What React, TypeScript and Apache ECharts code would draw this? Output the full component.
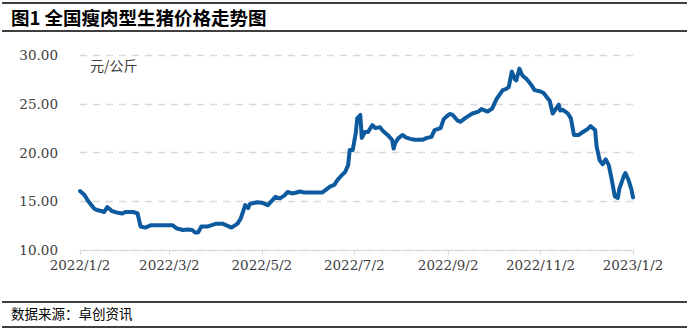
import React, { useEffect, useRef } from "react";
import * as echarts from "echarts";

const titleText = "图1 全国瘦肉型生猪价格走势图";
const sourceText = "数据来源：卓创资讯";
const unitText = "元/公斤";

const xTickLabels = ["2022/1/2", "2022/3/2", "2022/5/2", "2022/7/2", "2022/9/2", "2022/11/2", "2023/1/2"];

const dates = [
  "2022/1/2", "2022/1/5", "2022/1/7", "2022/1/11", "2022/1/13", "2022/1/16", "2022/1/18", "2022/1/20",
  "2022/1/23", "2022/1/26", "2022/1/30", "2022/2/1", "2022/2/6", "2022/2/9", "2022/2/11", "2022/2/14",
  "2022/2/18", "2022/3/4", "2022/3/7", "2022/3/11", "2022/3/14", "2022/3/17", "2022/3/19", "2022/3/21",
  "2022/3/23", "2022/3/27", "2022/3/30", "2022/4/2", "2022/4/6", "2022/4/9", "2022/4/12", "2022/4/16",
  "2022/4/18", "2022/4/20", "2022/4/21", "2022/4/23", "2022/4/24", "2022/4/26", "2022/4/29", "2022/5/2",
  "2022/5/6", "2022/5/11", "2022/5/14", "2022/5/17", "2022/5/19", "2022/5/22", "2022/5/25", "2022/5/27",
  "2022/5/30", "2022/6/3", "2022/6/7", "2022/6/11", "2022/6/13", "2022/6/16", "2022/6/19", "2022/6/21",
  "2022/6/24", "2022/6/26", "2022/6/28", "2022/6/29", "2022/7/1", "2022/7/3", "2022/7/4", "2022/7/6",
  "2022/7/7", "2022/7/9", "2022/7/11", "2022/7/14", "2022/7/16", "2022/7/19", "2022/7/21", "2022/7/24",
  "2022/7/27", "2022/7/28", "2022/7/29", "2022/7/31", "2022/8/3", "2022/8/5", "2022/8/8", "2022/8/11",
  "2022/8/16", "2022/8/19", "2022/8/22", "2022/8/24", "2022/8/28", "2022/8/30", "2022/9/1", "2022/9/3",
  "2022/9/5", "2022/9/8", "2022/9/10", "2022/9/13", "2022/9/15", "2022/9/18", "2022/9/22", "2022/9/24",
  "2022/9/28", "2022/10/1", "2022/10/4", "2022/10/8", "2022/10/10", "2022/10/12", "2022/10/14", "2022/10/16",
  "2022/10/17", "2022/10/19", "2022/10/21", "2022/10/24", "2022/10/27", "2022/10/29", "2022/11/2", "2022/11/4",
  "2022/11/6", "2022/11/8", "2022/11/10", "2022/11/14", "2022/11/15", "2022/11/17", "2022/11/20", "2022/11/22",
  "2022/11/24", "2022/11/27", "2022/11/30", "2022/12/3", "2022/12/5", "2022/12/8", "2022/12/9", "2022/12/11",
  "2022/12/13", "2022/12/15", "2022/12/17", "2022/12/19", "2022/12/21", "2022/12/23", "2022/12/24", "2022/12/27",
  "2022/12/28", "2022/12/30", "2023/1/1", "2023/1/2",
];

const prices = [
  16.05, 15.65, 15.1, 14.3, 14.1, 14.0, 13.9, 14.4,
  14.0, 13.85, 13.75, 13.9, 13.9, 13.75, 12.4, 12.3,
  12.55, 12.55, 12.2, 12.05, 12.1, 12.05, 11.8, 11.8,
  12.4, 12.4, 12.55, 12.7, 12.7, 12.5, 12.3, 12.7,
  13.2, 14.1, 14.6, 14.3, 14.7, 14.8, 14.9, 14.85,
  14.6, 15.45, 15.3, 15.6, 15.95, 15.8, 15.9, 16.0,
  15.9, 15.9, 15.9, 15.9, 16.15, 16.5, 16.7, 17.2,
  17.7, 18.0, 18.7, 20.25, 20.25, 22.0, 23.5, 23.85,
  21.5, 22.1, 22.1, 22.8, 22.5, 22.6, 22.2, 21.8,
  21.3, 20.4, 20.95, 21.45, 21.8, 21.55, 21.4, 21.3,
  21.3, 21.5, 21.6, 22.3, 22.5, 23.4, 23.7, 23.95,
  23.85, 23.3, 23.15, 23.5, 23.7, 24.0, 24.2, 24.45,
  24.2, 24.5, 25.5, 26.4, 26.5, 26.7, 28.3, 27.5,
  27.4, 28.6, 27.9, 27.5, 26.9, 26.4, 26.25, 26.1,
  25.7, 25.3, 24.0, 24.9, 24.3, 24.35, 24.0, 23.5,
  21.8, 21.8, 22.1, 22.4, 22.7, 22.3, 20.6, 19.2,
  18.8, 19.3, 18.7, 17.2, 15.5, 15.35, 16.3, 17.6,
  17.9, 17.2, 16.2, 15.4,
];

function buildDays(): string[] {
  const out: string[] = [];
  const d = new Date(2022, 0, 2);
  const end = new Date(2023, 0, 2);
  while (d <= end) {
    out.push(`${d.getFullYear()}/${d.getMonth() + 1}/${d.getDate()}`);
    d.setDate(d.getDate() + 1);
  }
  return out;
}

export default function App() {
  const ref = useRef<HTMLDivElement>(null);
  useEffect(() => {
    if (!ref.current) return;
    const chart = echarts.init(ref.current, undefined, { renderer: "svg" });
    const days = buildDays();
    const tickSet = new Set(xTickLabels);
    const showTick = (_i: number, v: string) => tickSet.has(v);
    const data = dates.map((d, i) => [days.indexOf(d), prices[i]]);
    chart.setOption({
      animation: false,
      backgroundColor: "#ffffff",
      grid: { left: 80, right: 56, top: 55, bottom: 82, containLabel: false },
      xAxis: {
        type: "category",
        data: days,
        boundaryGap: false,
        axisLine: { show: true, lineStyle: { color: "#d9d9d9", width: 1 } },
        axisTick: { show: true, interval: showTick, length: 5, lineStyle: { color: "#d9d9d9" } },
        axisLabel: {
          interval: showTick,
          color: "#404040",
          fontFamily: "DejaVu Serif",
          fontSize: 13.5,
          margin: 8,
        },
        splitLine: { show: false },
      },
      yAxis: {
        type: "value",
        min: 10,
        max: 30,
        interval: 5,
        axisLine: { show: false },
        axisTick: { show: false },
        axisLabel: {
          color: "#404040",
          fontFamily: "DejaVu Serif",
          fontSize: 13.5,
          margin: 22,
          formatter: (v: number) => v.toFixed(2),
        },
        splitLine: { show: true, lineStyle: { color: "#d9d9d9", type: [7, 6], width: 1.3 } },
      },
      series: [
        {
          type: "line",
          data,
          showSymbol: false,
          symbol: "none",
          smooth: false,
          lineStyle: { color: "#0e5a9e", width: 4, join: "round", cap: "round" },
          z: 5,
        },
      ],
      graphic: [
        { type: "line", shape: { x1: 2, y1: 3, x2: 687, y2: 3 }, style: { stroke: "#000", lineWidth: 1.5 } },
        { type: "line", shape: { x1: 2, y1: 31, x2: 687, y2: 31 }, style: { stroke: "#000", lineWidth: 1.5 } },
        {
          type: "text",
          left: 11,
          top: 8,
          style: {
            text: titleText,
            fontSize: 18.5,
            fontWeight: "bold",
            fontFamily: "Noto Sans CJK SC",
            fill: "#000",
          },
        },
        {
          type: "text",
          left: 90,
          top: 58,
          style: {
            text: unitText,
            fontSize: 14,
            fontFamily: "Noto Sans CJK SC",
            fill: "#404040",
          },
        },
        { type: "line", shape: { x1: 2, y1: 302, x2: 687, y2: 302 }, style: { stroke: "#000", lineWidth: 1.5 } },
        { type: "line", shape: { x1: 2, y1: 327, x2: 687, y2: 327 }, style: { stroke: "#000", lineWidth: 1.5 } },
        {
          type: "text",
          left: 11,
          top: 306,
          style: {
            text: sourceText,
            fontSize: 13.5,
            fontFamily: "Noto Sans CJK SC",
            fill: "#000",
          },
        },
      ],
    });
    return () => chart.dispose();
  }, []);
  return (
    <div
      ref={ref}
      style={{ position: "absolute", left: 0, top: 0, width: 689, height: 332, background: "#fff" }}
    />
  );
}
